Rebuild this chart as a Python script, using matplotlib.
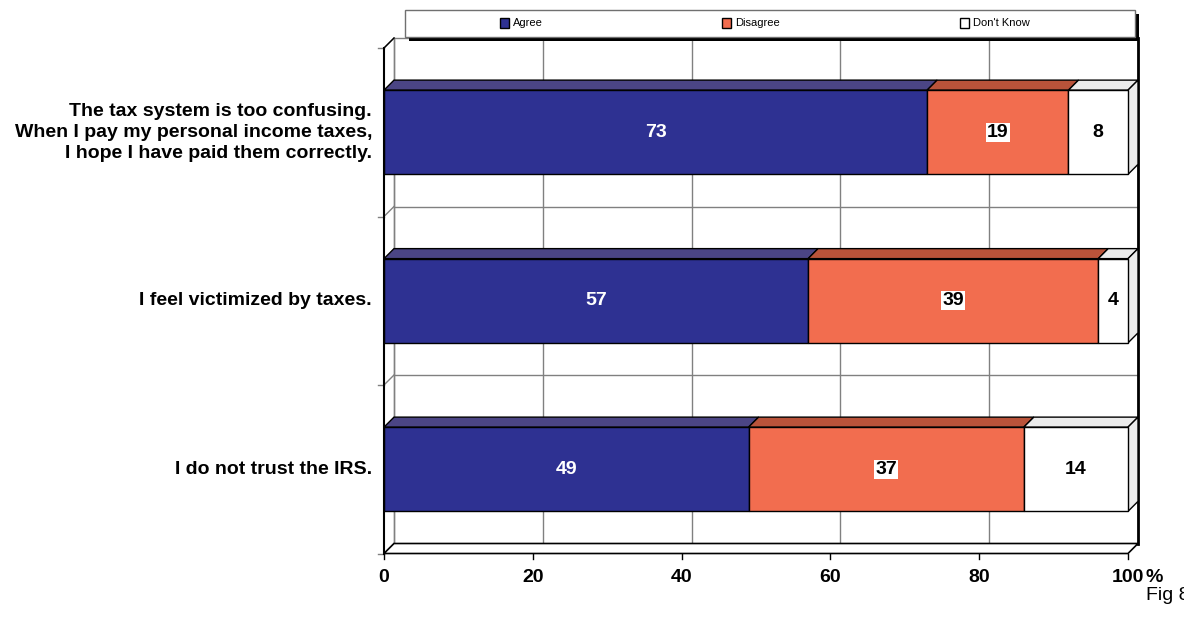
import matplotlib.pyplot as plt
from matplotlib.patches import Polygon, Rectangle

plt.rcParams['font.family'] = ['Liberation Sans', 'DejaVu Sans']

# data (bottom to top)
categories = ["I do not trust the IRS.",
              "I feel victimized by taxes.",
              "The tax system is too confusing.\nWhen I pay my personal income taxes,\nI hope I have paid them correctly."]
agree = [49, 57, 73]
disagree = [37, 39, 19]
dont_know = [14, 4, 8]
series_names = ["Agree", "Disagree", "Don't Know"]
xticks = [0, 20, 40, 60, 80, 100]

front_cols = ['#2E3192', '#F26D4F', '#FFFFFF']
top_cols = ['#4B4585', '#B9533A', '#EBEBEB']

W, H = 1184, 619
fig = plt.figure(figsize=(W / 100, H / 100), dpi=100)
ax = fig.add_axes([384 / W, (H - 553.5) / H, (1128 - 384) / W, (553.5 - 48) / H])
ax.set_xlim(0, 100)
ax.set_ylim(-0.5, 2.5)
ax.axis('off')

# depth offset in data units (about 10 px right and 10 px up)
dx = 10 / 7.44
dy = 10 / 168.5
bh = 0.5
grid_c = '#808080'

# back wall gridlines
for t in xticks:
    ax.plot([t + dx, t + dx], [-0.5 + dy, 2.5 + dy], color=grid_c, lw=1, zorder=1, clip_on=False)
for b in [-0.5, 0.5, 1.5, 2.5]:
    ax.plot([dx, 100 + dx], [b + dy, b + dy], color=grid_c, lw=1, zorder=1, clip_on=False)
    ax.plot([0, dx], [b, b + dy], color=grid_c, lw=1, zorder=1, clip_on=False)
# right back edge
ax.plot([100 + dx, 100 + dx], [-0.5 + dy, 2.5 + dy], color='black', lw=2, zorder=1, clip_on=False)
# floor
ax.add_patch(Polygon([(0, -0.5), (dx, -0.5 + dy), (100 + dx, -0.5 + dy), (100, -0.5)],
                     closed=True, facecolor='white', edgecolor='black', lw=1.2, zorder=2, clip_on=False))
# left axis front line
ax.plot([0, 0], [-0.5, 2.5], color='black', lw=1.5, zorder=5, clip_on=False)
ax.plot([dx, dx], [-0.5 + dy, 2.5 + dy], color=grid_c, lw=1, zorder=1, clip_on=False)
ax.plot([0, dx], [2.5, 2.5 + dy], color='black', lw=1, zorder=1, clip_on=False)

# bars
values = [agree, disagree, dont_know]
for i in range(len(categories)):
    left = 0
    y0, y1 = i - bh / 2, i + bh / 2
    for s in range(3):
        v = values[s][i]
        right = left + v
        ax.add_patch(Polygon([(left, y1), (left + dx, y1 + dy), (right + dx, y1 + dy), (right, y1)],
                             closed=True, facecolor=top_cols[s], edgecolor='black', lw=1,
                             zorder=3, clip_on=False))
        ax.add_patch(Rectangle((left, y0), v, bh, facecolor=front_cols[s], edgecolor='black',
                               lw=1, zorder=4, clip_on=False))
        xc = left + v / 2
        if s == 0:
            ax.text(xc, i, str(v), ha='center', va='center', color='white', fontsize=14,
                    fontweight='bold', zorder=6)
        elif s == 1:
            ax.text(xc, i, str(v), ha='center', va='center', color='black', fontsize=14,
                    fontweight='bold', zorder=6,
                    bbox=dict(boxstyle='square,pad=0.05', facecolor='white', edgecolor='none'))
        else:
            ax.text(xc, i, str(v), ha='center', va='center', color='black', fontsize=14,
                    fontweight='bold', zorder=6)
        left = right
    # right side face
    ax.add_patch(Polygon([(left, y0), (left + dx, y0 + dy), (left + dx, y1 + dy), (left, y1)],
                         closed=True, facecolor='#EBEBEB', edgecolor='black', lw=1,
                         zorder=3, clip_on=False))
    ax.text(-1.6, i, categories[i], ha='right', va='center', fontsize=14, fontweight='bold',
            linespacing=1.3, clip_on=False)

# ticks
for b in [-0.5, 0.5, 1.5, 2.5]:
    ax.plot([-0.8, 0], [b, b], color=grid_c, lw=1, clip_on=False)
for t in xticks:
    ax.plot([t, t], [-0.5, -0.53], color='black', lw=1, clip_on=False)
    ax.text(t, -0.59, str(t), ha='center', va='top', fontsize=14, fontweight='bold')
ax.text(102.4, -0.59, '%', ha='left', va='top', fontsize=14, fontweight='bold')

# legend with shadow
fig.patches.append(Rectangle((409 / W, (H - 41) / H), 730 / W, 27 / H, transform=fig.transFigure,
                             facecolor='black', edgecolor='none', zorder=1))
fig.patches.append(Rectangle((405 / W, (H - 37) / H), 730 / W, 27 / H, transform=fig.transFigure,
                             facecolor='white', edgecolor='#707070', lw=1, zorder=2))
leg_x = [504, 726, 964]
for name, col, lx in zip(series_names, front_cols, leg_x):
    fig.patches.append(Rectangle(((lx - 4) / W, (H - 28) / H), 9 / W, 10 / H,
                                 transform=fig.transFigure, facecolor=col,
                                 edgecolor='black', lw=1, zorder=3))
    fig.text((lx + 9) / W, (H - 23.5) / H, name, ha='left', va='center', fontsize=8, zorder=4)

fig.text(1146 / W, (H - 596) / H, 'Fig 8', ha='left', va='center', fontsize=14)

fig.savefig('out.png', dpi=100)
